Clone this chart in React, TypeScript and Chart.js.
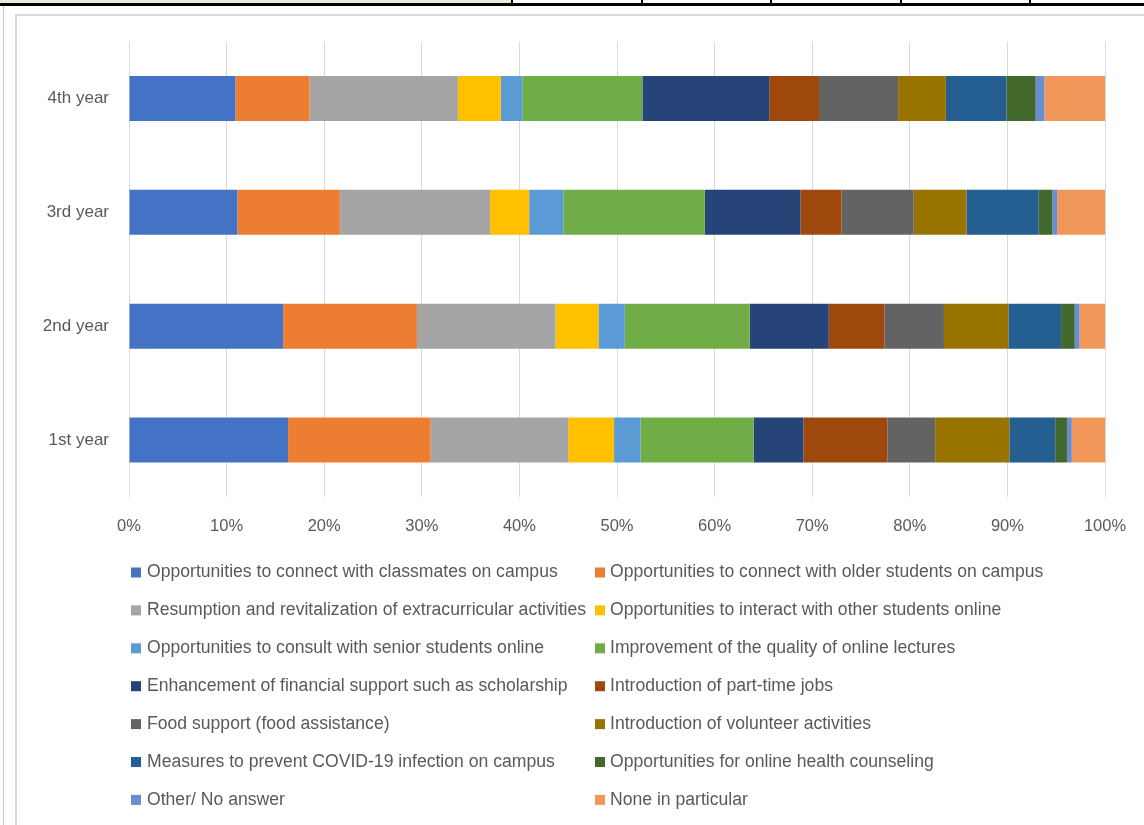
import { useEffect, useRef } from "react";
import { Chart, registerables } from "chart.js";

Chart.register(...registerables);

// Academic years, top to bottom
const years = ["4th year", "3rd year", "2nd year", "1st year"];

// Share of responses (%) per year, in the order of `years`
const classmatesOnCampus = [10.9, 11.1, 15.8, 16.3];
const olderStudentsOnCampus = [7.6, 10.5, 13.7, 14.6];
const extracurricular = [15.2, 15.4, 14.2, 14.1];
const interactOnline = [4.4, 4.0, 4.4, 4.7];
const consultSeniorsOnline = [2.2, 3.5, 2.7, 2.7];
const onlineLectures = [12.3, 14.5, 12.8, 11.6];
const financialSupport = [13.0, 9.8, 8.1, 5.1];
const partTimeJobs = [5.1, 4.2, 5.7, 8.6];
const foodSupport = [8.1, 7.4, 6.1, 4.9];
const volunteerActivities = [4.9, 5.4, 6.6, 7.6];
const covidMeasures = [6.2, 7.4, 5.4, 4.7];
const healthCounseling = [3.0, 1.4, 1.4, 1.2];
const otherNoAnswer = [0.9, 0.5, 0.5, 0.5];
const noneInParticular = [6.2, 4.9, 2.6, 3.4];

const seriesNames = [
  "Opportunities to connect with classmates on campus",
  "Opportunities to connect with older students on campus",
  "Resumption and revitalization of extracurricular activities",
  "Opportunities to interact with other students online",
  "Opportunities to consult with senior students online",
  "Improvement of the quality of online lectures",
  "Enhancement of financial support such as scholarship",
  "Introduction of part-time jobs",
  "Food support (food assistance)",
  "Introduction of volunteer activities",
  "Measures to prevent COVID-19 infection on campus",
  "Opportunities for online health counseling",
  "Other/ No answer",
  "None in particular",
];

const seriesValues = [
  classmatesOnCampus,
  olderStudentsOnCampus,
  extracurricular,
  interactOnline,
  consultSeniorsOnline,
  onlineLectures,
  financialSupport,
  partTimeJobs,
  foodSupport,
  volunteerActivities,
  covidMeasures,
  healthCounseling,
  otherNoAnswer,
  noneInParticular,
];

const seriesColors = [
  "#4472C4",
  "#ED7D31",
  "#A5A5A5",
  "#FFC000",
  "#5B9BD5",
  "#70AD47",
  "#264478",
  "#9E480E",
  "#636363",
  "#997300",
  "#255E91",
  "#43682B",
  "#698ED0",
  "#F1975A",
];

const xTicks = [0, 10, 20, 30, 40, 50, 60, 70, 80, 90, 100];

const TEXT_COLOR = "#595959";
const FONT_FAMILY = "'Liberation Sans', Arial, sans-serif";

// Two-column legend drawn below the plot
const gridLegend = {
  id: "gridLegend",
  afterDraw(chart: any) {
    const ctx = chart.ctx as CanvasRenderingContext2D;
    ctx.save();
    ctx.font = `17.6px ${FONT_FAMILY}`;
    ctx.textBaseline = "middle";
    ctx.textAlign = "left";
    chart.data.datasets.forEach((ds: any, i: number) => {
      const col = i % 2;
      const row = Math.floor(i / 2);
      const markerX = col === 0 ? 131 : 595;
      const textX = col === 0 ? 147 : 610;
      const y = 572.5 + row * 37.9;
      ctx.fillStyle = ds.backgroundColor;
      ctx.fillRect(markerX, y - 5, 10, 10);
      ctx.fillStyle = TEXT_COLOR;
      ctx.fillText(ds.label, textX, y);
    });
    ctx.restore();
  },
};

export default function App() {
  const canvasRef = useRef<HTMLCanvasElement | null>(null);

  useEffect(() => {
    if (!canvasRef.current) return;
    const chart = new Chart(canvasRef.current, {
      type: "bar",
      data: {
        labels: years,
        datasets: seriesNames.map((name, i) => ({
          label: name,
          data: seriesValues[i],
          backgroundColor: seriesColors[i],
          borderWidth: 0,
          barPercentage: 1,
          categoryPercentage: 0.395,
        })),
      },
      options: {
        indexAxis: "y",
        animation: false,
        responsive: false,
        devicePixelRatio: 1,
        layout: { padding: { left: 20, right: 39, top: 41.5, bottom: 288 } },
        plugins: {
          legend: { display: false },
          tooltip: { enabled: false },
        },
        scales: {
          x: {
            stacked: true,
            min: 0,
            max: 100,
            afterFit: (scale: any) => {
              scale.height = 40;
              scale.paddingLeft = 0;
              scale.paddingRight = 0;
            },
            afterBuildTicks: (scale: any) => {
              scale.ticks = xTicks.map((v) => ({ value: v }));
            },
            grid: { color: "#D9D9D9", lineWidth: 1, drawTicks: false },
            border: { display: false },
            ticks: {
              padding: 20,
              color: TEXT_COLOR,
              font: { family: FONT_FAMILY, size: 16.5 },
              callback: (v: any) => `${v}%`,
            },
          },
          y: {
            stacked: true,
            afterFit: (scale: any) => {
              scale.width = 109;
            },
            grid: { display: false, drawTicks: false },
            border: { display: false },
            ticks: {
              padding: 20,
              color: TEXT_COLOR,
              font: { family: FONT_FAMILY, size: 17 },
            },
          },
        },
      },
      plugins: [gridLegend],
    });
    return () => chart.destroy();
  }, []);

  return (
    <div
      style={{
        position: "fixed",
        left: 0,
        top: 0,
        width: 1144,
        height: 825,
        background: "#ffffff",
        overflow: "hidden",
      }}
    >
      {/* sheet cells above the chart */}
      <div style={{ position: "absolute", left: 0, top: 0, width: 511, height: 3, background: "#E2EFDA" }} />
      <div style={{ position: "absolute", left: 0, top: 3, width: 1144, height: 3, background: "#000000" }} />
      {[511, 641, 770, 900, 1029].map((x) => (
        <div key={x} style={{ position: "absolute", left: x, top: 0, width: 2, height: 6, background: "#000000" }} />
      ))}
      <div style={{ position: "absolute", left: 3, top: 6, width: 1, height: 819, background: "#C8C8C8" }} />
      {/* chart frame */}
      <div
        style={{
          position: "absolute",
          left: 15,
          top: 14,
          width: 1140,
          height: 820,
          border: "2px solid #D9D9D9",
          boxSizing: "border-box",
        }}
      />
      <canvas
        ref={canvasRef}
        width={1144}
        height={825}
        style={{ position: "absolute", left: 0, top: 0, display: "block" }}
      />
    </div>
  );
}
